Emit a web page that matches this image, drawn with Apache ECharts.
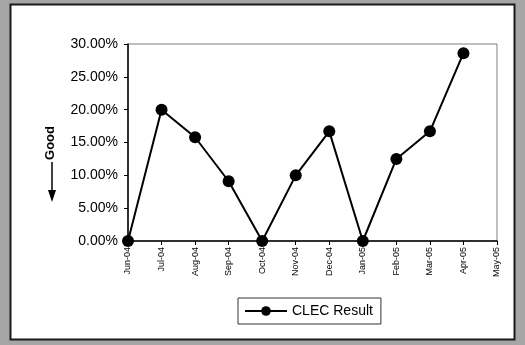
<!DOCTYPE html>
<html>
<head>
<meta charset="utf-8">
<script src="https://cdn.jsdelivr.net/npm/echarts@6/dist/echarts.min.js"></script>
<style>
  html, body { margin: 0; padding: 0; background: #a6a6a6; }
  #chart { width: 525px; height: 345px; }
</style>
</head>
<body>
<div id="chart"></div>
<script>
// month labels and CLEC results (percent)
var months = ['Jun-04', 'Jul-04', 'Aug-04', 'Sep-04', 'Oct-04', 'Nov-04', 'Dec-04', 'Jan-05', 'Feb-05', 'Mar-05', 'Apr-05', 'May-05'];
var clecResult = [0, 20.0, 15.8, 9.1, 0, 10.0, 16.7, 0, 12.5, 16.7, 28.6, null];
var seriesName = 'CLEC Result';

var chart = echarts.init(document.getElementById('chart'));
chart.setOption({
  animation: false,
  backgroundColor: '#a6a6a6',
  textStyle: { fontFamily: 'Liberation Sans, Arial, sans-serif' },
  graphic: [
    { type: 'rect', shape: { x: 10.5, y: 4.5, width: 504, height: 335 },
      style: { fill: '#fff', stroke: '#1a1a1a', lineWidth: 2 }, z: -10 },
    { type: 'text', x: 50, y: 143, rotation: Math.PI / 2,
      style: { text: 'Good', font: 'bold 13px Liberation Sans, Arial', fill: '#000', align: 'center', verticalAlign: 'middle' } },
    { type: 'line', shape: { x1: 52, y1: 162, x2: 52, y2: 192 }, style: { stroke: '#000', lineWidth: 1.5 } },
    { type: 'polygon', shape: { points: [[48, 190], [56, 190], [52, 202]] }, style: { fill: '#000' } }
  ],
  grid: {
    left: 128, top: 44, right: 28, bottom: 104,
    show: true, borderColor: '#808080', borderWidth: 1, backgroundColor: '#fff'
  },
  legend: {
    data: [seriesName],
    left: 238, top: 298,
    itemWidth: 42, itemHeight: 12,
    padding: [6, 8, 6, 6],
    borderColor: '#333', borderWidth: 1,
    backgroundColor: '#fff',
    textStyle: { fontSize: 14, color: '#000' }
  },
  xAxis: {
    type: 'category',
    data: months,
    boundaryGap: false,
    axisLine: { lineStyle: { color: '#000', width: 1.5 } },
    axisTick: { show: true, length: 4, lineStyle: { color: '#000' } },
    axisLabel: { rotate: 90, fontSize: 9, color: '#000', interval: 0, margin: 6 },
    splitLine: { show: false }
  },
  yAxis: {
    type: 'value',
    min: 0, max: 30, interval: 5,
    axisLine: { show: true, lineStyle: { color: '#000', width: 1.5 } },
    axisTick: { show: true, length: 4, lineStyle: { color: '#000' } },
    axisLabel: { fontSize: 14, color: '#000', margin: 10,
      formatter: function (v) { return v.toFixed(2) + '%'; } },
    splitLine: { show: false }
  },
  series: [{
    name: seriesName,
    type: 'line',
    data: clecResult,
    symbol: 'circle',
    symbolSize: 12,
    itemStyle: { color: '#000' },
    lineStyle: { color: '#000', width: 2 },
    clip: false
  }]
});
</script>
</body>
</html>
